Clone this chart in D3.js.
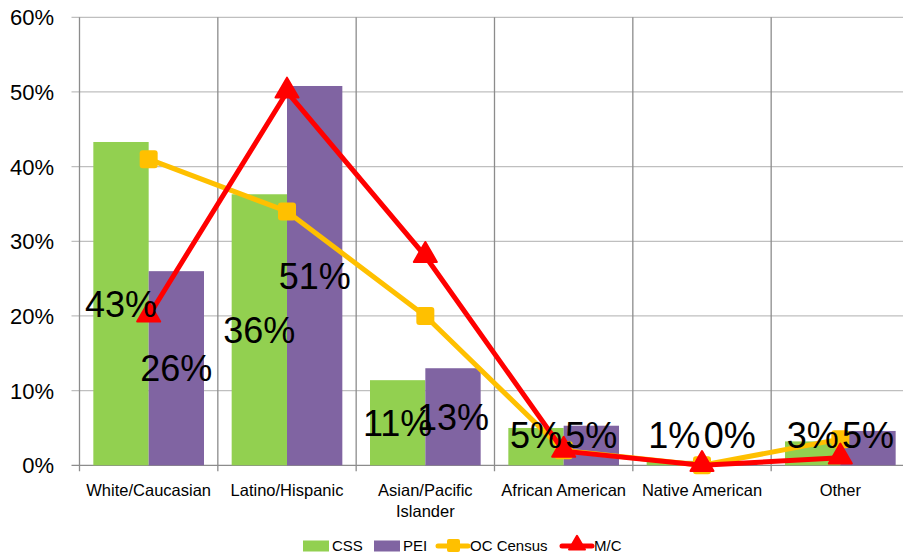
<!DOCTYPE html>
<html>
<head>
<meta charset="utf-8">
<script src="https://cdn.jsdelivr.net/npm/d3@7"></script>
<style>
  body { margin: 0; background: #fff; }
  svg { display: block; font-family: "Liberation Sans", Arial, sans-serif; }
</style>
</head>
<body>
<div id="chart"></div>
<script>
// Data
const categories = ["White/Caucasian", "Latino/Hispanic", "Asian/Pacific Islander", "African American", "Native American", "Other"];
const cssValues    = [43.3, 36.3, 11.4, 5.0, 0.6, 3.2];
const peiValues    = [26.0, 50.8, 13.0, 5.3, 0.2, 4.6];
const censusValues = [41.0, 34.0, 20.0, 2.0, 0.0, 3.5];
const mcValues     = [20.0, 50.0, 28.0, 1.9, 0.0, 1.0];
const yTicks = [0, 10, 20, 30, 40, 50, 60];

const width = 903, height = 560;
const margin = { top: 17.3, left: 79.5, right: -6.5, bottom: 94.7 };

const svg = d3.select("#chart").append("svg")
  .attr("width", width)
  .attr("height", height);

const x = d3.scaleBand()
  .domain(categories)
  .range([margin.left, width - margin.right])
  .paddingInner(0).paddingOuter(0);

// bars fill 80% of each category band
const inner = d3.scaleBand()
  .domain(["CSS", "PEI"])
  .range([0, x.bandwidth()])
  .paddingOuter(0.25).paddingInner(0);

const y = d3.scaleLinear()
  .domain([0, 60])
  .range([height - margin.bottom, margin.top]);

// gridlines
svg.append("g")
  .selectAll("line")
  .data(yTicks)
  .enter().append("line")
    .attr("x1", margin.left - 8)
    .attr("x2", width)
    .attr("y1", d => y(d))
    .attr("y2", d => y(d))
    .attr("stroke", d => d === 0 ? "#8c8c8c" : "#bfbfbf")
    .attr("stroke-width", 1.3);

const bounds = categories.map(c => x(c)).concat([x(categories[5]) + x.bandwidth()]);
svg.append("g")
  .selectAll("line")
  .data(bounds)
  .enter().append("line")
    .attr("x1", d => d).attr("x2", d => d)
    .attr("y1", margin.top)
    .attr("y2", y(0) + 6)
    .attr("stroke", "#8c8c8c")
    .attr("stroke-width", 1.3);

// y tick labels
svg.append("g")
  .selectAll("text")
  .data(yTicks)
  .enter().append("text")
    .attr("x", 54)
    .attr("y", d => y(d))
    .attr("dy", "0.36em")
    .attr("text-anchor", "end")
    .style("font-size", "22px")
    .attr("fill", "#000")
    .text(d => d + "%");

// x category labels
const catLabels = svg.append("g")
  .selectAll("text")
  .data(categories)
  .enter().append("text")
    .attr("x", d => x(d) + x.bandwidth() / 2)
    .attr("y", 496)
    .attr("text-anchor", "middle")
    .style("font-size", "16.5px")
    .attr("fill", "#000");
catLabels.each(function(d) {
  const lines = d === "Asian/Pacific Islander" ? ["Asian/Pacific", "Islander"] : [d];
  d3.select(this).selectAll("tspan")
    .data(lines)
    .enter().append("tspan")
      .attr("x", x(d) + x.bandwidth() / 2)
      .attr("dy", (l, i) => i === 0 ? 0 : 20.5)
      .text(l => l);
});

// bars
const series = [
  { key: "CSS", values: cssValues, color: "#92d050" },
  { key: "PEI", values: peiValues, color: "#8064a2" }
];

series.forEach(s => {
  svg.append("g")
    .selectAll("rect")
    .data(s.values)
    .enter().append("rect")
      .attr("x", (d, i) => x(categories[i]) + inner(s.key))
      .attr("y", d => y(d))
      .attr("width", inner.bandwidth())
      .attr("height", d => y(0) - y(d))
      .attr("fill", s.color);
});

// lines
const line = d3.line()
  .x((d, i) => x(categories[i]) + x.bandwidth() / 2)
  .y(d => y(d));

svg.append("path")
  .datum(censusValues)
  .attr("d", line)
  .attr("fill", "none")
  .attr("stroke", "#ffc000")
  .attr("stroke-width", 5)
  .attr("stroke-linejoin", "round");

svg.append("g")
  .selectAll("rect")
  .data(censusValues)
  .enter().append("rect")
    .attr("x", (d, i) => x(categories[i]) + x.bandwidth() / 2 - 9)
    .attr("y", d => y(d) - 9)
    .attr("width", 18).attr("height", 18)
    .attr("rx", 3)
    .attr("fill", "#ffc000");

svg.append("path")
  .datum(mcValues)
  .attr("d", line)
  .attr("fill", "none")
  .attr("stroke", "#ff0000")
  .attr("stroke-width", 5)
  .attr("stroke-linejoin", "round");

const tri = d3.symbol().type(d3.symbolTriangle).size(230);
svg.append("g")
  .selectAll("path")
  .data(mcValues)
  .enter().append("path")
    .attr("d", tri)
    .attr("transform", (d, i) => "translate(" + (x(categories[i]) + x.bandwidth() / 2) + "," + (y(d) - 1) + ")")
    .attr("fill", "#ff0000")
    .attr("stroke", "#ff0000")
    .attr("stroke-width", 2)
    .attr("stroke-linejoin", "round");

// data labels (bar values), centered in bar, kept above the axis
series.forEach(s => {
  svg.append("g")
    .selectAll("text")
    .data(s.values)
    .enter().append("text")
      .attr("x", (d, i) => x(categories[i]) + inner(s.key) + inner.bandwidth() / 2)
      .attr("y", d => Math.min((y(d) + y(0)) / 2 + 13, y(0) - 17))
      .attr("text-anchor", "middle")
      .style("font-size", "36px")
      .attr("fill", "#000")
      .text(d => Math.round(d) + "%");
});

// legend
const legend = svg.append("g").attr("transform", "translate(0,546)");
const legendItems = [
  { label: "CSS", type: "bar", color: "#92d050", x: 303 },
  { label: "PEI", type: "bar", color: "#8064a2", x: 374 },
  { label: "OC Census", type: "square", color: "#ffc000", x: 438 },
  { label: "M/C", type: "triangle", color: "#ff0000", x: 562 }
];
legendItems.forEach(it => {
  const g = legend.append("g").attr("transform", "translate(" + it.x + ",0)");
  if (it.type === "bar") {
    g.append("rect").attr("x", 0).attr("y", -5.5).attr("width", 26).attr("height", 11).attr("fill", it.color);
  } else {
    g.append("line").attr("x1", 0).attr("x2", 30).attr("y1", 0).attr("y2", 0)
      .attr("stroke", it.color).attr("stroke-width", 5).attr("stroke-linecap", "round");
    if (it.type === "square") {
      g.append("rect").attr("x", 9).attr("y", -7).attr("width", 13).attr("height", 13).attr("rx", 2).attr("fill", it.color);
    } else {
      g.append("path").attr("d", d3.symbol().type(d3.symbolTriangle).size(110))
        .attr("transform", "translate(15,-1)").attr("fill", it.color)
        .attr("stroke", it.color).attr("stroke-width", 2).attr("stroke-linejoin", "round");
    }
  }
  g.append("text")
    .attr("x", it.type === "bar" ? 29 : 32)
    .attr("y", 0)
    .attr("dy", "0.36em")
    .style("font-size", "15px")
    .attr("fill", "#000")
    .text(it.label);
});
</script>
</body>
</html>
